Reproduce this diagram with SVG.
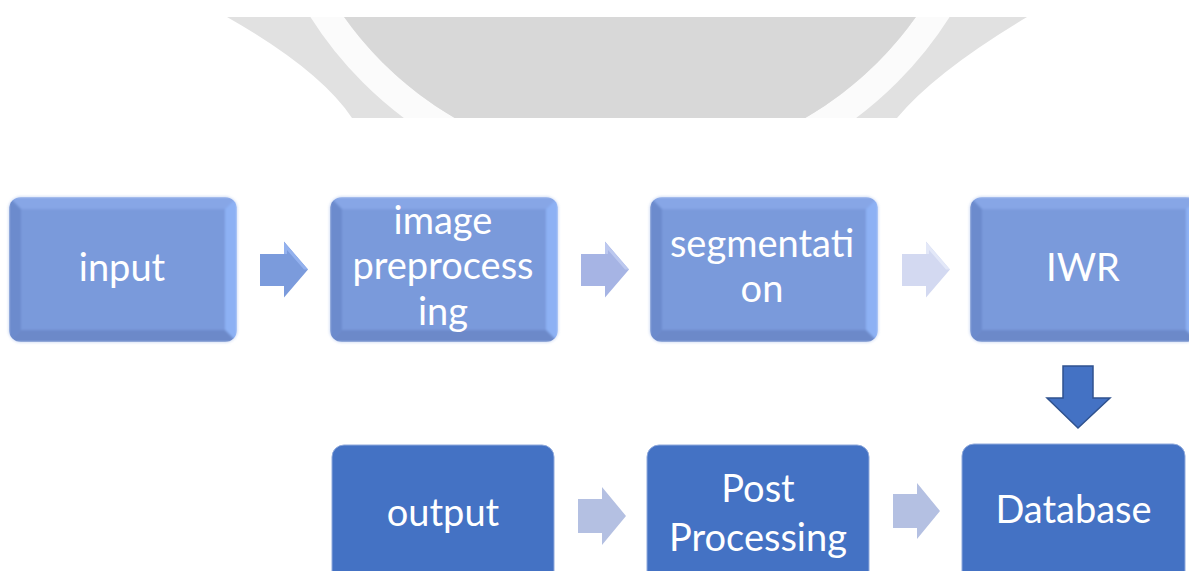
<svg xmlns="http://www.w3.org/2000/svg" width="1189" height="571" viewBox="0 0 1189 571">
  <style>
    .lbl { font-family: Lato, "Open Sans", "Liberation Sans", sans-serif; font-size: 38px; fill: #ffffff; text-anchor: middle; }
    .flat { fill: #4472c4; stroke: #8fa9dc; stroke-width: 1; }
    .link { fill: #b4c0e2; }
  </style>
  <defs>
    <clipPath id="bandClip"><rect x="0" y="17" width="1189" height="101"/></clipPath>
    <clipPath id="bevelClip"><rect x="0" y="0" width="228" height="145" rx="12"/></clipPath>
    <filter id="soft" x="-5%" y="-5%" width="110%" height="110%">
      <feGaussianBlur stdDeviation="0.8"/>
    </filter>
    <!-- bevelled box face, drawn at the origin and placed with <use> -->
    <g id="bevelBox">
      <rect x="-1" y="-1" width="230" height="147" rx="13" fill="#c4d3f2" opacity="0.6" filter="url(#soft)"/>
      <g clip-path="url(#bevelClip)" filter="url(#soft)">
        <rect x="0" y="0" width="228" height="145" fill="#7a9adb"/>
        <polygon points="0,0 228,0 216,12 12,12" fill="#87a6e6"/>
        <polygon points="0,0 12,12 12,133 0,145" fill="#6c8bcd"/>
        <polygon points="228,0 228,145 216,133 216,12" fill="#8db1f4"/>
        <polygon points="0,145 12,133 216,133 228,145" fill="#6c89c9"/>
      </g>
    </g>
    <path id="rightArrow" d="M0,0 H24 V-12.5 L48,15.5 L24,43.5 V32 H0 Z"/>
  </defs>

  <rect x="0" y="0" width="1189" height="571" fill="#ffffff"/>

  <!-- faded emblem band at the top -->
  <g id="emblem" clip-path="url(#bandClip)">
    <path d="M227,17 Q320,70 352,118 L897,118 Q935,72 1027,17 Z" fill="#e1e1e1"/>
    <circle cx="630" cy="-185" r="364" fill="none" stroke="#fbfbfb" stroke-width="28"/>
    <circle cx="630" cy="-185" r="350" fill="#d8d8d8"/>
  </g>

  <!-- connectors -->
  <g id="connectors">
    <g id="arrow-input-preprocessing">
      <use href="#rightArrow" transform="translate(260,254)" fill="#7b9bdc"/>
      <polygon points="284,242 308,269.5 304,269.5 287,250 287,254 284,254" fill="#93b1ee"/>
    </g>
    <g id="arrow-preprocessing-segmentation">
      <use href="#rightArrow" transform="translate(581,254)" fill="#a6b4e4"/>
      <polygon points="605,242 629,269.5 625,269.5 608,250 608,254 605,254" fill="#bcc8ef"/>
    </g>
    <g id="arrow-segmentation-iwr">
      <use href="#rightArrow" transform="translate(902,254)" fill="#d3d9f1"/>
      <polygon points="926,242 950,269.5 946,269.5 929,250 929,254 926,254" fill="#e3e8f8"/>
    </g>
    <path id="arrow-iwr-database" d="M1063,366 H1093 V398 H1110 L1078,428 L1047,398 H1063 Z" fill="#4472c4" stroke="#2f528f" stroke-width="1.5" stroke-linejoin="miter"/>
    <path id="arrow-output-post" class="link" d="M578,499 H602 V487 L626,516 L602,545 V533 H578 Z"/>
    <path id="arrow-post-database" class="link" d="M893,494 H917 V483 L940,511 L917,539 V528 H893 Z"/>
  </g>

  <!-- process steps -->
  <g id="node-input">
    <use href="#bevelBox" transform="translate(9,197)"/>
    <text class="lbl" x="122" y="281">input</text>
  </g>
  <g id="node-image-preprocessing">
    <use href="#bevelBox" transform="translate(330,197)"/>
    <text class="lbl" x="443" y="234">image</text>
    <text class="lbl" x="443" y="279">preprocess</text>
    <text class="lbl" x="443" y="325">ing</text>
  </g>
  <g id="node-segmentation">
    <use href="#bevelBox" transform="translate(650,197)"/>
    <text class="lbl" x="762" y="257">segmentati</text>
    <text class="lbl" x="762" y="302">on</text>
  </g>
  <g id="node-iwr">
    <use href="#bevelBox" transform="translate(970,197)"/>
    <text class="lbl" x="1083" y="281">IWR</text>
  </g>
  <g id="node-output">
    <rect class="flat" x="332" y="445" width="222" height="160" rx="12"/>
    <text class="lbl" x="443" y="526">output</text>
  </g>
  <g id="node-post-processing">
    <rect class="flat" x="647" y="445" width="222" height="160" rx="12"/>
    <text class="lbl" x="758" y="502">Post</text>
    <text class="lbl" x="758" y="551">Processing</text>
  </g>
  <g id="node-database">
    <rect class="flat" x="962" y="444" width="223" height="160" rx="12"/>
    <text class="lbl" x="1073.5" y="523">Database</text>
  </g>
</svg>
